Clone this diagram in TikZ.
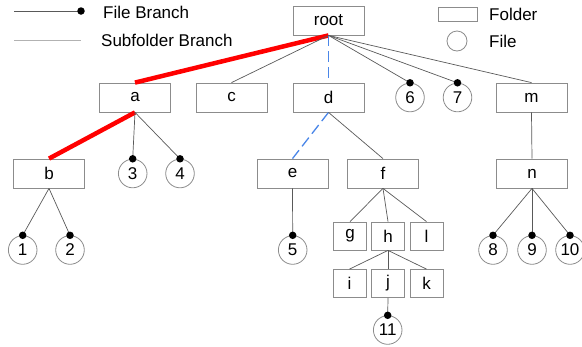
\documentclass[tikz,border=0pt]{standalone}
\usepackage{fontspec}
\setmainfont{Liberation Sans}
\begin{document}
\begin{tikzpicture}[x=1pt,y=-1pt,
  every node/.style={font=\fontsize{17}{19}\selectfont},
  folder/.style={draw=black!45,line width=0.8pt,rectangle,minimum width=71pt,minimum height=29pt,inner sep=0pt},
  sfolder/.style={draw=black!45,line width=0.8pt,rectangle,minimum width=33pt,minimum height=28pt,inner sep=0pt},
  file/.style={draw=black!45,line width=0.8pt,circle,minimum size=28.6pt,inner sep=0pt},
  sub/.style={draw=black!65,line width=0.7pt},
  fb/.style={draw=black!65,line width=0.7pt},
  dotmark/.style={circle,fill=black,minimum size=7.5pt,inner sep=0pt},
  redb/.style={draw=red,line width=4.5pt},
  blueb/.style={draw={rgb,255:red,74;green,134;blue,232},line width=1.3pt,dash pattern=on 11pt off 5pt},
  lbl/.style={anchor=west,inner sep=0pt}
]
\useasboundingbox (0,0) rectangle (582,346);
% legend
\coordinate (lf1) at (14,11);
\coordinate (lf2) at (81,11);
\draw[fb] (lf1) -- (lf2);
\node[dotmark] at (lf2) {};
\node[lbl] (lft) at (103,12) {File Branch};
\coordinate (ls1) at (14,40);
\coordinate (ls2) at (81,40);
\draw[draw=black!30,line width=0.8pt] (ls1) -- (ls2);
\node[lbl] (lst) at (101,40) {Subfolder Branch};
\node[folder,minimum width=39pt,minimum height=14pt] (lfold) at (457.5,14) {};
\node[lbl] (lfoldt) at (489,14) {Folder};
\node[file,minimum size=20pt] (lfile) at (457,41) {};
\node[lbl] (lfilet) at (489,41) {File};
% nodes
\node[folder] (root) at (328.5,20.5) {root};
\node[folder] (a) at (135,97.5) {a};
\node[folder] (c) at (231.5,97.5) {c};
\node[folder] (d) at (328.5,97.5) {d};
\node[file] (n6) at (410,97.5) {6};
\node[file] (n7) at (457.5,97.5) {7};
\node[folder] (m) at (531.5,97.5) {m};
\node[folder] (b) at (49,173.5) {b};
\node[file] (n3) at (132.7,173.5) {3};
\node[file] (n4) at (180,173.5) {4};
\node[folder] (e) at (292.5,173.5) {e};
\node[folder] (f) at (383,173.5) {f};
\node[folder] (n) at (532,173.5) {n};
\node[file] (n1) at (22.7,250) {1};
\node[file] (n2) at (70,250) {2};
\node[file] (n5) at (292.7,250) {5};
\node[sfolder] (g) at (350,236) {g};
\node[sfolder] (h) at (388,236) {h};
\node[sfolder] (l) at (426.5,236) {l};
\node[file] (n8) at (493,250) {8};
\node[file] (n9) at (532,250) {9};
\node[file] (n10) at (570,250) {10};
\node[sfolder] (i) at (349.5,283.5) {i};
\node[sfolder] (j) at (388,283.5) {j};
\node[sfolder] (k) at (426.5,283.5) {k};
\node[file] (n11) at (387.7,330) {11};
% connectors
\draw[redb] (root.south) -- (a.north);
\draw[sub] (root.south) -- (c.north);
\draw[blueb] (root.south) -- (d.north);
\draw[fb] (root.south) -- (n6.north);
\draw[fb] (root.south) -- (n7.north);
\draw[sub] (root.south) -- (m.north);
\draw[redb] (a.south) -- (b.north);
\draw[fb] (a.south) -- (n3.north);
\draw[fb] (a.south) -- (n4.north);
\draw[fb] (b.south) -- (n1.north);
\draw[fb] (b.south) -- (n2.north);
\draw[blueb] (d.south) -- (e.north);
\draw[sub] (d.south) -- (f.north);
\draw[fb] (e.south) -- (n5.north);
\draw[sub] (f.south) -- (g.north);
\draw[sub] (f.south) -- (h.north);
\draw[sub] (f.south) -- (l.north);
\draw[sub] (h.south) -- (i.north);
\draw[sub] (h.south) -- (j.north);
\draw[sub] (h.south) -- (k.north);
\draw[fb] (j.south) -- (n11.north);
\draw[sub] (m.south) -- (n.north);
\draw[fb] (n.south) -- (n8.north);
\draw[fb] (n.south) -- (n9.north);
\draw[fb] (n.south) -- (n10.north);
% dots
\foreach \q in {n1,n2,n3,n4,n5,n6,n7,n8,n9,n10,n11}
  \node[dotmark] at (\q.north) {};
\end{tikzpicture}
\end{document}
